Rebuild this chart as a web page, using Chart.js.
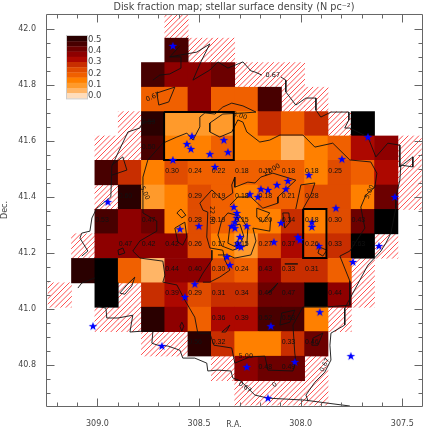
<!DOCTYPE html>
<html>
<head>
<meta charset="utf-8">
<title>Disk fraction map</title>
<style>
  html, body { margin: 0; padding: 0; background: #fff; }
  canvas { display: block; }
</style>
<script src="https://cdn.jsdelivr.net/npm/chart.js@4"></script>
</head>
<body>
<canvas id="mapa" width="436" height="436"></canvas>
<script>
// =====================================================
// DATA
// =====================================================
const _ = null;

// cell centres of the map grid, left to right and top to bottom
const raCentres = [309.185, 309.07, 308.955, 308.84, 308.726, 308.611, 308.497, 308.382,
  308.267, 308.152, 308.038, 307.923, 307.808, 307.694, 307.579, 307.464];
const decCentres = [42.009, 41.922, 41.835, 41.747, 41.66, 41.573, 41.486, 41.398,
  41.311, 41.224, 41.136, 41.049, 40.962, 40.875, 40.787, 40.7];

// fraction per cell, rows follow decCentres[1..14], columns raCentres[1..14]
const fractionRows = [
  [_, _, _, _, .51, _, _, _, _, _, _, _, _, _],
  [_, _, _, .51, .41, .42, .47, _, _, _, _, _, _, _],
  [_, _, _, .21, .21, .42, .21, .23, .51, _, _, _, _, _],
  [_, _, _, .59, .11, .11, .14, .17, .33, .21, .33, _, .7, _],
  [_, _, _, .51, .16, .16, .21, .17, .16, .08, .16, .22, .37, .42],
  [_, .51, .31, .19, .3, .24, .22, .21, .21, .21, .18, .25, .21, .38],
  [_, _, .6, .12, .17, .29, .21, .18, .21, .21, .28, .26, .16, .47],
  [_, .53, .42, .47, .16, .28, .21, .17, .17, .34, .18, .3, .47, .7],
  [_, .42, .42, .42, .42, .26, .17, .15, .27, .37, .26, .33, .63, _],
  [.57, .8, .21, .06, .44, .4, .3, .24, .43, .33, .31, .21, _, _],
  [_, .72, _, .33, .39, .29, .31, .34, .49, .47, .9, .44, _, _],
  [_, _, _, .56, .42, .21, .36, .39, .52, .53, .16, _, _, _],
  [_, _, _, _, _, .56, .32, .19, .16, .33, .46, _, _, _],
  [_, _, _, _, _, _, _, .42, .48, .49, _, _, _, _]
];

// printed numbers per cell, same layout as fractionRows
const labelRows = [
  '- - - - - - - - - - - - - -',
  '- - - - - - - - - - - - - -',
  '- - - - - - - - - - - - - -',
  '- - - 0.59 - - - - - - - - - -',
  '- - - 0.50 - - - - - - - - - -',
  '- - - - 0.30 0.24 0.22 0.18 0.16 0.18 0.18 0.25 - -',
  '- - 0.60 - - 0.29 0.19 0.18 0.18 0.21 0.28 - - -',
  '- 0.53 - 0.47 - 0.28 0.19 0.15 0.20 0.34 0.18 0.30 0.43 -',
  '- - 0.47 0.42 0.42 0.26 0.17 0.15 0.27 0.37 0.26 0.33 0.63 -',
  '- - - - 0.44 0.40 0.30 0.24 0.43 0.33 0.31 - - -',
  '- - - - 0.39 0.29 0.31 0.34 0.49 0.47 - 0.44 - -',
  '- - - - - - 0.36 0.39 0.52 0.53 - - - -',
  '- - - - - 0.56 0.32 - - 0.33 0.46 - - -',
  '- - - - - - - - 0.48 0.49 - - - -'
];

// hatched cells, rows follow decCentres, columns raCentres
const hatchRows = [
  '.....x..........',
  '......xx........',
  '........xxx.....',
  '..........xx....',
  '...x........x...',
  '..xx...........x',
  '...............x',
  '..x............x',
  '................',
  '.x............x.',
  '.............x..',
  'x..x.........x..',
  '..xx........x...',
  '....xx..........',
  '.......x...x....',
  '........xxxx....'
];

const fractionBands = ['#FFDDBB', '#FFB566', '#FF9A2B', '#FF8000', '#F06000', '#E04C00',
  '#C82E00', '#AD0800', '#8E0000', '#6C0000', '#480000', '#2A0000', '#000000'];
const barLabels = ['0.5', '0.4', '0.3', '0.2', '0.1', '0.0'];

const contours = [
  [[309.077, 41.188], [309.047, 41.206], [309.086, 41.252], [309.077, 41.27], [309.037, 41.277], [309.027, 41.324],
   [309.003, 41.359], [308.934, 41.399], [308.929, 41.509], [308.899, 41.556], [308.85, 41.631], [308.791, 41.645],
   [308.776, 41.666], [308.717, 41.67]],
  [[309.013, 41.11], [309.077, 41.092], [309.096, 41.074]],
  [[308.727, 41.816], [308.693, 41.834], [308.644, 41.838], [308.589, 41.859], [308.589, 41.899], [308.644, 41.899], [308.594, 41.938]],
  [[308.644, 41.899], [308.511, 41.916], [308.447, 41.945], [308.491, 41.881], [308.53, 41.816], [308.447, 41.852],
   [308.407, 41.881], [308.358, 41.859], [308.284, 41.881], [308.245, 41.849], [308.225, 41.845], [308.191, 41.834]],
  [[308.097, 41.827], [308.073, 41.816], [308.073, 41.774], [308.024, 41.727], [307.974, 41.752], [307.925, 41.752],
   [307.925, 41.709], [307.901, 41.684], [307.851, 41.702], [307.763, 41.702], [307.763, 41.674], [307.783, 41.645],
   [307.758, 41.645], [307.669, 41.613], [307.63, 41.542], [307.571, 41.591], [307.512, 41.584], [307.512, 41.506],
   [307.448, 41.542], [307.448, 41.506], [307.507, 41.513], [307.512, 41.459], [307.532, 41.399], [307.532, 41.359],
   [307.556, 41.27], [307.581, 41.234], [307.605, 41.206], [307.669, 41.156], [307.783, 41.002], [307.783, 40.942],
   [307.851, 40.913], [307.856, 40.87], [307.851, 40.817], [307.881, 40.774], [307.93, 40.738], [307.974, 40.692], [307.965, 40.674]],
  [[307.758, 40.653], [307.866, 40.663], [307.979, 40.674], [308.161, 40.681], [308.225, 40.692], [308.26, 40.717],
   [308.294, 40.742], [308.334, 40.753], [308.343, 40.778], [308.407, 40.781], [308.457, 40.778], [308.462, 40.806],
   [308.521, 40.824], [308.58, 40.824], [308.594, 40.852], [308.653, 40.867], [308.703, 40.87], [308.732, 40.877],
   [308.727, 40.92], [308.781, 40.92], [308.84, 40.917], [308.826, 40.977], [308.899, 40.967], [308.954, 40.967],
   [308.958, 41.002], [309.003, 41.01]],
  [[308.708, 41.77], [308.619, 41.791], [308.649, 41.738], [308.698, 41.727], [308.708, 41.77]],
  [[308.929, 41.513], [308.875, 41.542], [308.855, 41.495], [308.929, 41.477]],
  [[308.89, 41.056], [308.855, 41.085], [308.816, 41.113], [308.831, 41.081], [308.865, 41.052], [308.89, 41.056]],
  [[308.594, 40.938], [308.585, 40.952], [308.575, 40.938], [308.585, 40.92], [308.594, 40.938]],
  [[308.899, 41.209], [308.875, 41.217], [308.865, 41.199], [308.895, 41.192], [308.899, 41.209]],
  [[308.609, 41.342], [308.589, 41.356], [308.565, 41.334], [308.585, 41.324], [308.609, 41.342]],
  [[308.619, 41.288], [308.57, 41.309], [308.56, 41.256], [308.58, 41.227], [308.604, 41.238], [308.619, 41.288]],
  [[308.137, 41.067], [308.112, 41.092], [308.161, 41.056], [308.137, 41.067]],
  [[308.093, 40.985], [308.029, 40.995], [308.053, 40.952], [308.102, 40.942], [308.093, 40.985]],
  [[307.94, 40.895], [307.891, 40.913], [307.915, 40.87], [307.945, 40.87], [307.94, 40.895]],
  [[308.088, 41.342], [308.058, 41.342], [308.053, 41.309], [308.078, 41.288], [308.088, 41.342]],
  [[308.078, 41.16], [308.014, 41.16], [308.078, 41.16]],
  [[307.906, 41.22], [307.871, 41.209], [307.891, 41.188], [307.915, 41.199], [307.906, 41.22]],
  [[308.388, 40.917], [308.348, 40.942], [308.368, 40.917], [308.388, 40.917]],
  [[308.776, 41.47], [308.752, 41.531], [308.678, 41.591], [308.609, 41.613], [308.56, 41.627], [308.53, 41.602],
   [308.496, 41.649], [308.496, 41.684], [308.471, 41.699], [308.422, 41.695], [308.383, 41.72], [308.339, 41.734],
   [308.284, 41.724], [308.22, 41.702], [308.275, 41.699], [308.383, 41.695], [308.447, 41.663], [308.447, 41.631],
   [308.398, 41.613], [308.339, 41.631], [308.309, 41.674], [308.284, 41.666], [308.265, 41.631], [308.201, 41.595],
   [308.152, 41.602], [308.102, 41.62], [307.989, 41.62], [307.93, 41.577], [307.842, 41.591],
   [307.758, 41.531], [307.655, 41.524], [307.625, 41.484], [307.635, 41.434], [307.679, 41.406], [307.704, 41.363],
   [307.694, 41.324], [307.684, 41.288], [307.758, 41.206], [307.807, 41.188], [307.758, 41.099], [307.758, 41.013],
   [307.881, 41.006], [307.989, 41.006], [308.038, 40.942], [308.029, 40.842], [308.024, 40.813], [308.038, 40.778],
   [308.161, 40.781], [308.176, 40.831], [308.25, 40.828], [308.324, 40.806], [308.339, 40.86], [308.427, 40.87],
   [308.447, 40.913], [308.506, 40.913], [308.521, 40.97], [308.57, 41.031], [308.609, 41.085], [308.678, 41.095],
   [308.668, 41.12], [308.678, 41.17], [308.791, 41.181], [308.826, 41.206], [308.791, 41.242], [308.708, 41.277],
   [308.708, 41.313], [308.776, 41.342], [308.776, 41.388], [308.776, 41.47]],
  [[308.348, 41.138], [308.373, 41.174], [308.383, 41.209], [308.447, 41.217], [308.462, 41.256], [308.457, 41.345],
   [308.481, 41.352], [308.496, 41.377], [308.437, 41.424], [308.383, 41.388], [308.334, 41.413], [308.339, 41.442],
   [308.324, 41.47], [308.324, 41.434], [308.26, 41.452], [308.225, 41.449], [308.196, 41.47], [308.137, 41.484],
   [308.024, 41.459], [308.112, 41.399], [308.112, 41.377], [308.186, 41.359], [308.245, 41.399], [308.309, 41.399], [308.348, 41.37]],
  [[308.348, 41.138], [308.398, 41.113], [308.447, 41.095], [308.481, 41.095]],
  [[308.437, 41.209], [308.437, 41.174], [308.481, 41.127], [308.506, 41.095]],
  [[308.024, 41.356], [307.999, 41.442], [307.93, 41.449], [307.95, 41.406], [307.989, 41.356]],
  [[308.216, 41.359], [308.152, 41.342], [308.186, 41.309], [308.216, 41.327], [308.216, 41.359]],
  [[308.407, 41.192], [308.358, 41.192], [308.324, 41.181], [308.245, 41.192], [308.22, 41.242], [308.235, 41.288], [308.152, 41.277], [308.147, 41.324]],
  [[308.388, 41.317], [308.358, 41.342], [308.299, 41.331], [308.26, 41.288], [308.265, 41.227], [308.334, 41.209], [308.388, 41.224], [308.407, 41.263], [308.388, 41.317]],
  [[308.348, 41.295], [308.299, 41.302], [308.28, 41.259], [308.309, 41.217], [308.358, 41.234], [308.348, 41.295]]
];

const contourLabels = [
  ['0.67', 308.137, 41.834, 0], ['0.67', 308.727, 41.756, -25], ['5.00', 308.767, 41.413, 65],
  ['5.00', 308.299, 41.688, 15], ['5.00', 307.66, 41.417, -65], ['0.67', 307.881, 40.799, -65],
  ['5.00', 308.27, 40.831, 0], ['0.67', 308.275, 40.72, 35], ['0', 308.127, 40.728, -40],
  ['22.00', 308.437, 41.334, 90], ['17.00', 308.142, 41.495, -30]
];

const boxes = [
  [[308.672, 41.702], [308.329, 41.702], [308.329, 41.531], [308.672, 41.531], [308.672, 41.702]],
  [[307.988, 41.356], [307.873, 41.356], [307.873, 41.181], [307.988, 41.181], [307.988, 41.356]]
];

const stars = [
  [308.629, 41.938], [308.949, 41.381], [308.535, 41.616], [308.56, 41.588], [308.54, 41.57], [308.447, 41.552],
  [308.629, 41.531], [308.422, 41.506], [308.378, 41.602], [308.358, 41.559], [307.797, 41.534], [307.669, 41.613],
  [307.96, 41.477], [308.063, 41.456], [308.073, 41.427], [308.117, 41.442], [308.161, 41.424], [308.196, 41.427],
  [308.211, 41.399], [308.25, 41.409], [307.537, 41.399], [307.827, 41.359], [308.329, 41.363], [308.314, 41.342],
  [308.314, 41.324], [308.324, 41.309], [308.339, 41.295], [308.324, 41.288], [308.265, 41.295], [308.501, 41.295],
  [308.594, 41.284], [308.299, 41.256], [308.309, 41.224], [308.294, 41.22], [308.309, 41.234], [308.363, 41.185],
  [308.348, 41.156], [308.097, 41.306], [307.945, 41.309], [307.945, 41.292], [308.132, 41.238], [308.014, 41.256],
  [308.004, 41.245], [307.911, 41.224], [307.615, 41.224], [307.743, 41.167], [307.906, 40.988], [308.147, 40.938],
  [307.753, 40.831], [308.265, 40.792], [308.029, 40.81], [308.161, 40.681], [309.022, 40.938], [308.683, 40.867],
  [308.521, 41.088], [308.57, 41.042]
];

const xTickValues = [309.0, 308.5, 308.0, 307.5];
const xMinorTicks = [309.2, 309.1, 308.9, 308.8, 308.7, 308.6, 308.4, 308.3, 308.2, 308.1, 307.9, 307.8, 307.7, 307.6];
const yTickValues = [42.0, 41.8, 41.6, 41.4, 41.2, 41.0, 40.8];
const yMinorTicks = [41.95, 41.9, 41.85, 41.75, 41.7, 41.65, 41.55, 41.5, 41.45, 41.35, 41.3, 41.25,
  41.15, 41.1, 41.05, 40.95, 40.9, 40.85, 40.75, 40.7];

// =====================================================
// HELPERS
// =====================================================
function corDaFracao(v) {
  return fractionBands[Math.min(Math.floor(v / 0.05), fractionBands.length - 1)];
}

function criarHachura() {
  const tile = document.createElement('canvas');
  tile.width = 16; tile.height = 16;
  const c = tile.getContext('2d');
  c.strokeStyle = '#ff5050';
  c.lineWidth = 1;
  for (let i = -16; i <= 32; i += 16 / 3) {
    c.beginPath();
    c.moveTo(i, 16);
    c.lineTo(i + 16, 0);
    c.stroke();
  }
  return document.createElement('canvas').getContext('2d').createPattern(tile, 'repeat');
}

function criarEstrela() {
  const star = document.createElement('canvas');
  star.width = 10; star.height = 10;
  const c = star.getContext('2d');
  c.fillStyle = '#0000ff';
  c.beginPath();
  for (let i = 0; i < 10; i++) {
    const r = i % 2 ? 1.8 : 4.6;
    const a = -Math.PI / 2 + i * Math.PI / 5;
    c.lineTo(5 + r * Math.cos(a), 5.3 + r * Math.sin(a));
  }
  c.closePath();
  c.fill();
  return star;
}

const cellHalfDec = 0.0437;
const cellWidth = 23.4;

const hatchBars = [];
hatchRows.forEach((row, r) => {
  [...row].forEach((ch, c) => {
    if (ch === 'x') hatchBars.push({ x: raCentres[c], y: [decCentres[r] - cellHalfDec, decCentres[r] + cellHalfDec] });
  });
});

const cellBars = [];
const cellColours = [];
fractionRows.forEach((row, r) => {
  row.forEach((v, c) => {
    if (v === null) return;
    const dec = decCentres[r + 1];
    cellBars.push({ x: raCentres[c + 1], y: [dec - cellHalfDec, dec + cellHalfDec] });
    cellColours.push(corDaFracao(v));
  });
});

// =====================================================
// PLUGIN: frame, inward ticks, printed numbers, colour bar
// =====================================================
const mapaExtras = {
  id: 'mapaExtras',
  afterDatasetsDraw(chart) {
    const { ctx, chartArea: a, scales: { x, y } } = chart;
    ctx.save();

    // numbers in the cells
    ctx.fillStyle = '#111';
    ctx.font = '7px "Liberation Sans"';
    ctx.textAlign = 'center';
    ctx.textBaseline = 'middle';
    labelRows.forEach((row, r) => {
      row.split(' ').forEach((txt, c) => {
        if (txt === '-') return;
        ctx.fillText(txt, x.getPixelForValue(raCentres[c + 1]) - 4.5, y.getPixelForValue(decCentres[r + 1]) - 1.5);
      });
    });

    // contour labels
    ctx.font = '6.5px "DejaVu Sans"';
    contourLabels.forEach(([txt, ra, dec, rot]) => {
      ctx.save();
      ctx.translate(x.getPixelForValue(ra), y.getPixelForValue(dec));
      ctx.rotate(rot * Math.PI / 180);
      ctx.fillText(txt, 0, 0);
      ctx.restore();
    });

    // frame and ticks
    ctx.strokeStyle = '#666';
    ctx.lineWidth = 1;
    ctx.beginPath();
    const l = a.left + 0.5, r = a.right + 0.5, t = a.top + 0.5, b = a.bottom + 0.5;
    ctx.rect(l, t, r - l, b - t);
    const vTick = (v, len) => {
      const p = Math.round(x.getPixelForValue(v)) + 0.5;
      ctx.moveTo(p, b); ctx.lineTo(p, b - len);
      ctx.moveTo(p, t); ctx.lineTo(p, t + len);
    };
    const hTick = (v, len) => {
      const p = Math.round(y.getPixelForValue(v)) + 0.5;
      ctx.moveTo(l, p); ctx.lineTo(l + len, p);
      ctx.moveTo(r, p); ctx.lineTo(r - len, p);
    };
    xTickValues.forEach(v => vTick(v, 8));
    xMinorTicks.forEach(v => vTick(v, 4));
    yTickValues.forEach(v => hTick(v, 8));
    yMinorTicks.forEach(v => hTick(v, 4));
    ctx.stroke();

    // colour bar, top band first
    const barX = a.left + 21, barY = a.top + 22, barW = 20, bandH = 5.2;
    const bands = fractionBands.slice(0, 12).reverse();
    bands.forEach((cor, i) => {
      ctx.fillStyle = cor;
      ctx.fillRect(barX, barY + i * bandH, barW, bandH + 0.3);
    });
    ctx.strokeStyle = '#ccc';
    ctx.strokeRect(barX - 0.5, barY - 0.5, barW + 1, bands.length * bandH + 1);
    ctx.fillStyle = '#444';
    ctx.font = '8.5px "DejaVu Sans"';
    ctx.textAlign = 'left';
    barLabels.forEach((txt, i) => {
      ctx.fillText(txt, barX + barW + 1, barY + 4 + i * 11.12);
    });
    ctx.restore();
  },
};

// =====================================================
// CHART
// =====================================================
const estrela = criarEstrela();

new Chart(document.getElementById('mapa'), {
  type: 'bar',
  data: {
    datasets: [
      {
        type: 'scatter', data: stars.map(([x, y]) => ({ x, y })), order: 1,
        pointStyle: estrela, pointRadius: 5, showLine: false,
      },
      ...boxes.map(box => ({
        type: 'scatter', data: box.map(([x, y]) => ({ x, y })), order: 2,
        showLine: true, borderColor: '#000', borderWidth: 2, pointRadius: 0, tension: 0,
      })),
      ...contours.map(line => ({
        type: 'scatter', data: line.map(([x, y]) => ({ x, y })), order: 3,
        showLine: true, borderColor: '#111', borderWidth: 0.9, pointRadius: 0, tension: 0,
      })),
      { data: cellBars, backgroundColor: cellColours, order: 4, grouped: false, barThickness: cellWidth, borderWidth: 0 },
      { data: hatchBars, backgroundColor: criarHachura(), order: 5, grouped: false, barThickness: cellWidth, borderWidth: 0 },
    ],
  },
  options: {
    responsive: false,
    animation: false,
    events: [],
    layout: { padding: { top: 0, right: 14, bottom: 0, left: 0 } },
    plugins: {
      legend: { display: false },
      tooltip: { enabled: false },
      title: {
        display: true,
        text: 'Disk fraction map; stellar surface density (N pc\u207B\u00B2)',
        fullSize: false,
        color: '#444',
        font: { family: 'DejaVu Sans', size: 9.7, weight: 'normal', lineHeight: 1.03 },
        padding: { top: 2, bottom: 2 },
      },
    },
    scales: {
      x: {
        type: 'linear', reverse: true, min: 307.403, max: 309.253, offset: false,
        grid: { display: false }, border: { display: false },
        afterBuildTicks(s) { s.ticks = xTickValues.map(value => ({ value })); },
        afterFit(s) { s.height = 30; },
        ticks: {
          autoSkip: false, maxRotation: 0, padding: 5, color: '#444',
          font: { family: 'DejaVu Sans', size: 8 },
          callback: v => Number(v).toFixed(1),
        },
        title: {
          display: true, text: 'R.A.', color: '#444',
          font: { family: 'DejaVu Sans', size: 8 },
          padding: { top: 0, bottom: 6 },
        },
      },
      y: {
        type: 'linear', min: 40.653, max: 42.052,
        grid: { display: false }, border: { display: false },
        afterBuildTicks(s) { s.ticks = yTickValues.map(value => ({ value })); },
        afterFit(s) { s.width = 46; },
        ticks: {
          autoSkip: false, padding: 2, color: '#444',
          font: { family: 'DejaVu Sans', size: 8 },
          callback: v => Number(v).toFixed(1),
        },
        title: {
          display: true, text: 'Dec.', color: '#444',
          font: { family: 'DejaVu Sans', size: 8 },
          padding: { top: 0, bottom: 12 },
        },
      },
    },
  },
  plugins: [mapaExtras],
});
</script>
</body>
</html>
